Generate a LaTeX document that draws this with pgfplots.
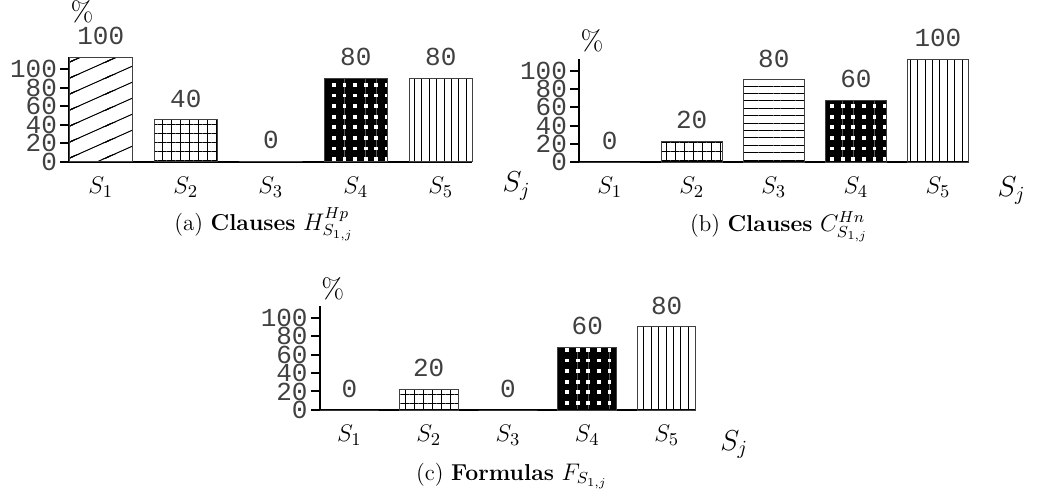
\documentclass[border=0pt]{standalone}
\usepackage{fontspec}
\usepackage{pgfplots}
\pgfplotsset{compat=1.18}
\usetikzlibrary{patterns.meta}
\newfontfamily\numfont{Liberation Mono}
\pgfdeclarepatternformonly{slant}{\pgfqpoint{-1pt}{-1pt}}{\pgfqpoint{19pt}{9pt}}{\pgfqpoint{18pt}{8pt}}{%
  \pgfsetlinewidth{0.5pt}%
  \pgfpathmoveto{\pgfqpoint{-1.8pt}{-0.8pt}}%
  \pgfpathlineto{\pgfqpoint{19.8pt}{8.8pt}}%
  \pgfpathmoveto{\pgfqpoint{-1.8pt}{-8.8pt}}%
  \pgfpathlineto{\pgfqpoint{19.8pt}{0.8pt}}%
  \pgfpathmoveto{\pgfqpoint{-1.8pt}{7.2pt}}%
  \pgfpathlineto{\pgfqpoint{19.8pt}{16.8pt}}%
  \pgfusepath{stroke}}
\pgfplotsset{
  subbar/.style={
    scale only axis, anchor=south west,
    xmin=0.63, xmax=5.37, ymin=0, ymax=100,
    enlargelimits=false, clip=false,
    axis x line*=bottom, axis y line*=left,
    axis line style={line width=1pt},
    xtick={1,2,3,4,5},
    xticklabels={$S_1$,$S_2$,$S_3$,$S_4$,$S_5$},
    x tick style={draw=none},
    xticklabel style={font=\fontsize{13}{13}\selectfont, inner sep=0pt, yshift=-3pt},
    ytick={0,17.8,35.5,53.3,71,88.8},
    yticklabels={0,20,40,60,80,100},
    y tick style={line width=1pt, black},
    tick align=outside, major tick length=4.5pt,
    yticklabel style={font=\numfont\fontsize{13}{11}\selectfont, inner sep=1.5pt, text=black!75},
    /pgf/number format/assume math mode=true,
    ybar, bar width=0.74,
    every axis plot/.append style={bar shift=0pt, draw=black!75, line width=0.5pt},
    nodes near coords,
    every node near coord/.append style={font=\numfont\fontsize{13}{13}\selectfont, anchor=south, inner sep=0pt, yshift=6pt, text=black!75},
  }
}
\begin{document}
\begin{tikzpicture}
\useasboundingbox (0,0) rectangle (520.5pt,-246.5pt);
% (a)
\begin{axis}[subbar, at={(34.65pt,-80.85pt)}, width=201.5pt, height=52.2pt]
\addplot[pattern=slant] coordinates {(1,100)};
\addplot[pattern={Hatch[angle=0,distance=4.5pt,line width=0.4pt]}] coordinates {(2,40)};
\addplot[fill=white] coordinates {(3,0)};
\addplot[pattern={Hatch[angle=0,distance=5.3pt,line width=3.4pt]}] coordinates {(4,80)};
\addplot[pattern={Lines[angle=90,distance=3.7pt,line width=0.45pt]}] coordinates {(5,80)};
\node[anchor=south west, inner sep=0pt, font=\fontsize{14}{14}\selectfont] at ([xshift=0.5pt,yshift=17pt]rel axis cs:0,1) {\%};
\node[anchor=north west, inner sep=0pt, font=\Large] at ([xshift=15pt,yshift=-5pt]rel axis cs:1,0) {$S_j$};
\end{axis}
% (b)
\begin{axis}[subbar, at={(289.65pt,-81pt)}, width=194.5pt, height=51.35pt]
\addplot[fill=white] coordinates {(1,0)};
\addplot[pattern={Hatch[angle=0,distance=4.5pt,line width=0.4pt]}] coordinates {(2,20)};
\addplot[pattern={Lines[angle=0,distance=3.7pt,line width=0.45pt]}] coordinates {(3,80)};
\addplot[pattern={Hatch[angle=0,distance=5.3pt,line width=3.4pt]}] coordinates {(4,60)};
\addplot[pattern={Lines[angle=90,distance=3.7pt,line width=0.45pt]}] coordinates {(5,100)};
\node[anchor=south west, inner sep=0pt, font=\fontsize{14}{14}\selectfont] at ([xshift=0.5pt,yshift=3.5pt]rel axis cs:0,1) {\%};
\node[anchor=north west, inner sep=0pt, font=\Large] at ([xshift=14.5pt,yshift=-7pt]rel axis cs:1,0) {$S_j$};
\end{axis}
% (c)
\begin{axis}[subbar, at={(160pt,-205pt)}, width=188pt, height=52pt]
\addplot[fill=white] coordinates {(1,0)};
\addplot[pattern={Hatch[angle=0,distance=4.5pt,line width=0.4pt]}] coordinates {(2,20)};
\addplot[fill=white] coordinates {(3,0)};
\addplot[pattern={Hatch[angle=0,distance=5.3pt,line width=3.4pt]}] coordinates {(4,60)};
\addplot[pattern={Lines[angle=90,distance=3.7pt,line width=0.45pt]}] coordinates {(5,80)};
\node[anchor=south west, inner sep=0pt, font=\fontsize{14}{14}\selectfont] at ([xshift=0.5pt,yshift=3pt]rel axis cs:0,1) {\%};
\node[anchor=north west, inner sep=0pt, font=\Large] at ([xshift=12pt,yshift=-10pt]rel axis cs:1,0) {$S_j$};
\end{axis}
\node[anchor=base, font=\fontsize{11.5}{14}\selectfont] at (132pt,-115pt) {(a) \textbf{Clauses} $H^{Hp}_{S_{1,j}}$};
\node[anchor=base, font=\fontsize{11.5}{14}\selectfont] at (389.5pt,-115.8pt) {(b) \textbf{Clauses} $C^{Hn}_{S_{1,j}}$};
\node[anchor=base, font=\fontsize{11.5}{14}\selectfont] at (256pt,-240pt) {(c) \textbf{Formulas} $F_{S_{1,j}}$};
\end{tikzpicture}
\end{document}
